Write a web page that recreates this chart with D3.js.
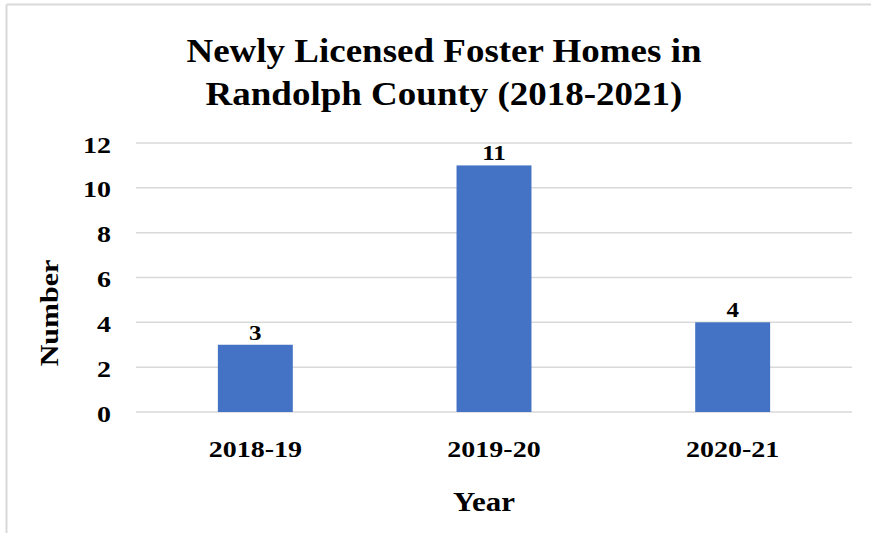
<!DOCTYPE html>
<html>
<head>
<meta charset="utf-8">
<script src="https://cdn.jsdelivr.net/npm/d3@7"></script>
<style>
  html, body { margin: 0; padding: 0; background: #fff; }
  svg { display: block; }
  text { font-family: "Liberation Serif", "Times New Roman", serif; font-weight: bold; fill: #000; }
</style>
</head>
<body>
<svg id="chart" width="871" height="533"></svg>
<script>
const categories = ["2018-19", "2019-20", "2020-21"];
const values = [3, 11, 4];
const yTicks = [0, 2, 4, 6, 8, 10, 12];
const titleLines = ["Newly Licensed Foster Homes in", "Randolph County (2018-2021)"];
const xTitle = "Year";
const yTitle = "Number";

const svg = d3.select("#chart");
const W = 871, H = 533;
const plot = { left: 136, right: 852, top: 143, bottom: 412 };
const SY = 0.85; // slight vertical compression seen in the reference text

// frame
svg.append("line").attr("x1", 6.5).attr("x2", W).attr("y1", 4.5).attr("y2", 4.5)
  .attr("stroke", "#d9d9d9").attr("stroke-width", 2);
svg.append("line").attr("x1", 6.5).attr("x2", 6.5).attr("y1", 4.5).attr("y2", H)
  .attr("stroke", "#d9d9d9").attr("stroke-width", 2);

const x = d3.scaleBand().domain(categories).range([plot.left, plot.right]).paddingInner(0.686).paddingOuter(0.343);
const y = d3.scaleLinear().domain([0, 12]).range([plot.bottom, plot.top]);

// gridlines
svg.append("g").selectAll("line").data(yTicks).join("line")
  .attr("x1", plot.left).attr("x2", plot.right)
  .attr("y1", d => y(d)).attr("y2", d => y(d))
  .attr("stroke", "#d9d9d9").attr("stroke-width", 1.5);

function squash(sel, px, py) {
  sel.attr("transform", `translate(${px},${py}) scale(1,${SY})`).attr("x", 0).attr("y", 0);
}

// y axis
const yAxis = d3.axisLeft(y).tickValues(yTicks).tickSize(0).tickPadding(25);
const gy = svg.append("g").attr("transform", `translate(${plot.left},0)`).call(yAxis);
gy.select(".domain").remove();
gy.selectAll(".tick text")
  .style("font-size", "28px").style("font-family", "Liberation Serif, serif").style("font-weight", "bold")
  .attr("dy", null)
  .each(function() { squash(d3.select(this), -25, 9); });

// x axis
const xAxis = d3.axisBottom(x).tickSize(0);
const gx = svg.append("g").attr("transform", `translate(0,${plot.bottom})`).call(xAxis);
gx.select(".domain").remove();
gx.selectAll(".tick text")
  .style("font-size", "28px").style("font-family", "Liberation Serif, serif").style("font-weight", "bold")
  .attr("dy", null)
  .each(function() { squash(d3.select(this), 0, 45); });

// bars
svg.append("g").selectAll("rect").data(values).join("rect")
  .attr("x", (d, i) => x(categories[i]))
  .attr("width", x.bandwidth())
  .attr("y", d => y(d))
  .attr("height", d => y(0) - y(d))
  .attr("fill", "#4472c4");

// data labels
svg.append("g").selectAll("text").data(values).join("text")
  .attr("transform", (d, i) => `translate(${x(categories[i]) + x.bandwidth() / 2},${y(d) - 5}) scale(1,${SY})`)
  .attr("text-anchor", "middle")
  .style("font-size", "25px")
  .text(d => d);

// title
svg.append("g").selectAll("text").data(titleLines).join("text")
  .attr("transform", (d, i) => `translate(444,${62 + i * 43}) scale(1,${SY + 0.05})`)
  .attr("text-anchor", "middle")
  .style("font-size", "37px")
  .text(d => d);

// axis titles
svg.append("text").attr("transform", `translate(484,511) scale(1,${SY})`).attr("text-anchor", "middle")
  .style("font-size", "31px").text(xTitle);
svg.append("text").attr("transform", `translate(58,313) rotate(-90) scale(1,${SY})`).attr("text-anchor", "middle")
  .style("font-size", "30px").text(yTitle);
</script>
</body>
</html>
